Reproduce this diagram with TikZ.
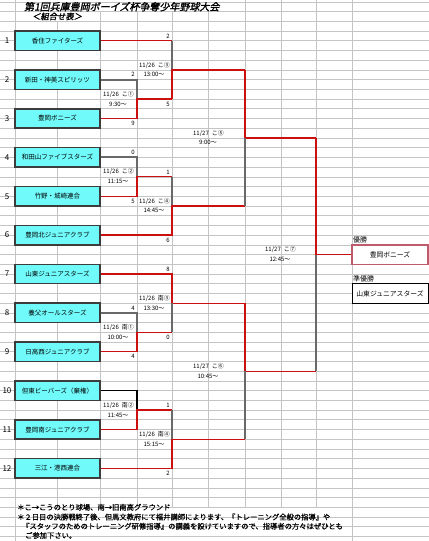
\documentclass[tikz,border=0pt]{standalone}
\usepackage{fontspec}
\usepackage{xcolor}
\usepackage{tikz}
\usetikzlibrary{positioning,calc}
\setmainfont{Noto Sans CJK JP}
\newfontfamily\titlefont{Noto Sans CJK JP}[FakeSlant=0.2,FakeBold=1.6]
\newfontfamily\notefont{Noto Sans CJK JP}[FakeBold=0.6]

\definecolor{gridgray}{RGB}{196,196,196}
\definecolor{winred}{RGB}{204,16,16}
\definecolor{losegray}{RGB}{105,105,105}
\definecolor{teamcyan}{RGB}{112,250,250}
\definecolor{boxedge}{RGB}{60,60,60}
\definecolor{champedge}{RGB}{190,92,110}

\tikzset{
  gridline/.style={draw=gridgray, line width=0.6pt},
  team/.style={draw=boxedge, line width=1.5pt, fill=teamcyan, minimum width=85pt,
    minimum height=19.4pt, inner sep=0pt, font=\fontsize{6.5}{7}\selectfont},
  num/.style={font=\fontsize{8}{8}\selectfont, inner sep=0pt},
  win/.style={draw=winred, line width=1.3pt},
  lose/.style={draw=losegray, line width=1.9pt},
  forfeit/.style={draw=black, line width=1.2pt},
  score/.style={anchor=east, inner sep=0pt, font=\fontsize{6}{6}\selectfont},
  info/.style={inner sep=0pt, font=\fontsize{6}{6}\selectfont},
  place/.style={anchor=west, inner sep=0pt, font=\fontsize{7}{7}\selectfont},
  final/.style={minimum width=76pt, minimum height=19.4pt, inner sep=0pt,
    fill=white, font=\fontsize{6.8}{7}\selectfont},
  note/.style={anchor=west, inner sep=0pt, font=\notefont\fontsize{7.3}{7.3}\selectfont}
}

\begin{document}
\begin{tikzpicture}[x=1pt, y=-9.72pt]
\useasboundingbox (0,-0.19) rectangle (429,55.47);
\fill[white] (0,-0.19) rectangle (429,55.47);

% Sheet grid
\foreach \k in {0,...,55} \draw[gridline] (0,\k) -- (429,\k);
\foreach \x in {15,352} \draw[gridline] (\x,-0.19) -- (\x,55.47);
\draw[gridline] (57,2) -- (57,52);
\foreach \x in {100,137,172,208} \draw[gridline] (\x,1) -- (\x,52);
\foreach \x in {245,281,316} \draw[gridline] (\x,-0.19) -- (\x,52);

% Title
\node[anchor=west, inner sep=0pt, font=\titlefont\fontsize{10}{10}\selectfont] (title) at (24,0.5) {第1回兵庫豊岡ボーイズ杯争奪少年野球大会};
\node[anchor=west, inner sep=0pt, font=\titlefont\fontsize{8.3}{8.3}\selectfont] (subtitle) at (32,1.5) {＜組合せ表＞};

% Junctions
\coordinate (jA) at (137,10);
\coordinate (jB) at (137,18);
\coordinate (jC) at (137,34);
\coordinate (jD) at (137,42);
\coordinate (jE) at (172,7);
\coordinate (jF) at (172,21);
\coordinate (jG) at (172,31);
\coordinate (jH) at (172,45);
\coordinate (jS1) at (245,14);
\coordinate (jS2) at (245,38);
\coordinate (jfin) at (316,26);

% Teams
\foreach \i/\name in {1/香住ファイターズ, 2/新田・神美スピリッツ, 3/豊岡ボニーズ,
    4/和田山ファイブスターズ, 5/竹野・城崎連合, 6/豊岡北ジュニアクラブ,
    7/山東ジュニアスターズ, 8/養父オールスターズ, 9/日高西ジュニアクラブ,
    10/但東ビーバーズ（棄権）, 11/豊岡南ジュニアクラブ, 12/三江・港西連合} {
  \coordinate (p\i) at (100,4*\i);
  \node[num] (n\i) at (7,4*\i) {\i};
}

% First round
\draw[lose] (p2) -- (p2 -| jA) -- (jA);
\draw[win] (p3) -- (p3 -| jA) -- (jA) -- (jA -| jE);
\draw[lose] (p4) -- (p4 -| jB) -- (jB);
\draw[win] (p5) -- (p5 -| jB) -- (jB) -- (jB -| jF);
\draw[lose] (p8) -- (p8 -| jC) -- (jC);
\draw[win] (p9) -- (p9 -| jC) -- (jC) -- (jC -| jG);
\draw[forfeit] (p10) -- (p10 -| jD) -- (jD);
\draw[win] (p11) -- (p11 -| jD) -- (jD) -- (jD -| jH);

% Second round
\draw[win] (p1) -- (p1 -| jE);
\draw[lose] (p1 -| jE) -- (jE);
\draw[win] (jA -| jE) -- (jE) -- (jE -| jS1);
\draw[lose] (jB -| jF) -- (jF);
\draw[win] (p6) -- (p6 -| jF) -- (jF) -- (jF -| jS1);
\draw[win] (p7) -- (p7 -| jG) -- (jG) -- (jG -| jS1);
\draw[lose] (jG) -- (jC -| jG);
\draw[lose] (jD -| jH) -- (jH);
\draw[win] (p12) -- (p12 -| jH) -- (jH) -- (jH -| jS2);

% Semifinals and final
\draw[win] (jE -| jS1) -- (jS1) -- (jS1 -| jfin);
\draw[lose] (jS1) -- (jF -| jS1);
\draw[win] (jG -| jS2) -- (jS2) -- (jS2 -| jfin);
\draw[lose] (jS2) -- (jH -| jS2);
\draw[win] (jS1 -| jfin) -- (jfin) -- (352,26);
\draw[lose] (jfin) -- (jS2 -| jfin);

% Team boxes
\foreach \i/\name in {1/香住ファイターズ, 2/新田・神美スピリッツ, 3/豊岡ボニーズ,
    4/和田山ファイブスターズ, 5/竹野・城崎連合, 6/豊岡北ジュニアクラブ,
    7/山東ジュニアスターズ, 8/養父オールスターズ, 9/日高西ジュニアクラブ,
    10/但東ビーバーズ（棄権）, 11/豊岡南ジュニアクラブ, 12/三江・港西連合} {
  \node[team] (t\i) at (57.5,4*\i) {\name};
}

% Scores
\node[score] (sA1) at (135,7.5) {2};
\node[score] (sA2) at (135,12.5) {9};
\node[score] (sE1) at (170,3.5) {2};
\node[score] (sE2) at (170,10.5) {5};
\node[score] (sB1) at (135,15.5) {0};
\node[score] (sB2) at (135,20.5) {5};
\node[score] (sF1) at (170,17.5) {1};
\node[score] (sF2) at (170,24.5) {6};
\node[score] (sG1) at (170,27.5) {8};
\node[score] (sG2) at (170,34.5) {0};
\node[score] (sC1) at (135,31.5) {4};
\node[score] (sC2) at (135,36.5) {4};
\node[score] (sH1) at (170,41.5) {1};
\node[score] (sH2) at (170,48.5) {2};

% Match dates and times
\node[info] (dA) at (118.5,9.5) {11/26\enspace こ①};
\node[info] (hA) at (118,10.5) {9:30～};
\node[info] (dB) at (118.5,17.5) {11/26\enspace こ②};
\node[info] (hB) at (118,18.5) {11:15～};
\node[info] (dC) at (118.5,33.5) {11/26\enspace 南①};
\node[info] (hC) at (118,34.5) {10:00～};
\node[info] (dD) at (118.5,41.5) {11/26\enspace 南②};
\node[info] (hD) at (118,42.5) {11:45～};
\node[info] (dE) at (154.5,6.5) {11/26\enspace こ③};
\node[info] (hE) at (154,7.5) {13:00～};
\node[info] (dF) at (154.5,20.5) {11/26\enspace こ④};
\node[info] (hF) at (154,21.5) {14:45～};
\node[info] (dG) at (154.5,30.5) {11/26\enspace 南③};
\node[info] (hG) at (154,31.5) {13:30～};
\node[info] (dH) at (154.5,44.5) {11/26\enspace 南④};
\node[info] (hH) at (154,45.5) {15:15～};
\node[info] (dS1) at (208.5,13.5) {11/27\enspace こ⑤};
\node[info] (hS1) at (208,14.5) {9:00～};
\node[info] (dS2) at (208.5,37.5) {11/27\enspace こ⑥};
\node[info] (hS2) at (208,38.5) {10:45～};
\node[info] (dfin) at (280.5,25.5) {11/27\enspace こ⑦};
\node[info] (hfin) at (280,26.5) {12:45～};

% Result
\node[place] (lwin) at (353,24.5) {優勝};
\node[final, draw=champedge, line width=1.5pt] (champ) at (390,26) {豊岡ボニーズ};
\node[place] (lrun) at (353,28.5) {準優勝};
\node[final, draw=black, line width=0.8pt] (runner) at (390,30) {山東ジュニアスターズ};

% Notes
\node[note] (f1) at (17,52.0) {＊こ→こうのとり球場、南→旧南高グラウンド};
\node[note] (f2) at (17,53.0) {＊２日目の決勝戦終了後、但馬文教府にて福井講師によります、『トレーニング全般の指導』や};
\node[note] (f3) at (22,53.95) {『スタッフのためのトレーニング研修指導』の講義を設けていますので、指導者の方々はぜひとも};
\node[note] (f4) at (25,54.9) {ご参加下さい。};
\end{tikzpicture}
\end{document}
